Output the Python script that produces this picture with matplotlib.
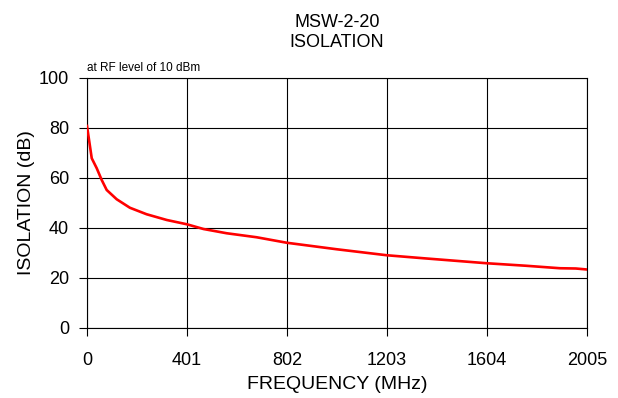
import numpy as np
import matplotlib.pyplot as plt

plt.rcParams['font.family'] = ['Liberation Sans', 'DejaVu Sans']

# Isolation curve
freq = [0, 19, 39, 59, 79, 119, 172, 239, 320, 400, 467, 560, 680, 801,
        1001, 1202, 1349, 1603, 1760, 1897, 1960, 2005]
isolation = [80.8, 67.9, 63.9, 59.2, 55.2, 51.5, 48.1, 45.5, 43.2, 41.5, 39.6,
             37.9, 36.3, 34.1, 31.5, 29.1, 27.9, 25.9, 24.9, 23.9, 23.8, 23.4]

xticks = [0, 401, 802, 1203, 1604, 2005]
yticks = [0, 20, 40, 60, 80, 100]

fig = plt.figure(figsize=(6.18, 3.98), dpi=100)
ax = fig.add_axes([87 / 618, 70 / 398, 500 / 618, 250 / 398])

ax.plot(freq, isolation, color='red', linewidth=1.9, zorder=3)

ax.set_xlim(0, 2005)
ax.set_ylim(0, 100)
ax.set_xticks(xticks)
ax.set_yticks(yticks)
ax.grid(True, color='black', linewidth=0.8)
for s in ax.spines.values():
    s.set_linewidth(0.8)
ax.tick_params(axis='x', direction='out', length=6, width=0.8, pad=11, labelsize=13)
ax.tick_params(axis='y', direction='out', length=6, width=0.8, pad=7, labelsize=13)

ax.set_xlabel('FREQUENCY (MHz)', fontsize=14, labelpad=5.5)
ax.set_ylabel('ISOLATION (dB)', fontsize=14, labelpad=3)
ax.set_title('MSW-2-20\nISOLATION', fontsize=13, pad=22, linespacing=1.25)
ax.text(0, 101.5, 'at RF level of 10 dBm', fontsize=8.5, ha='left', va='bottom')

fig.savefig('out.png', dpi=100)
